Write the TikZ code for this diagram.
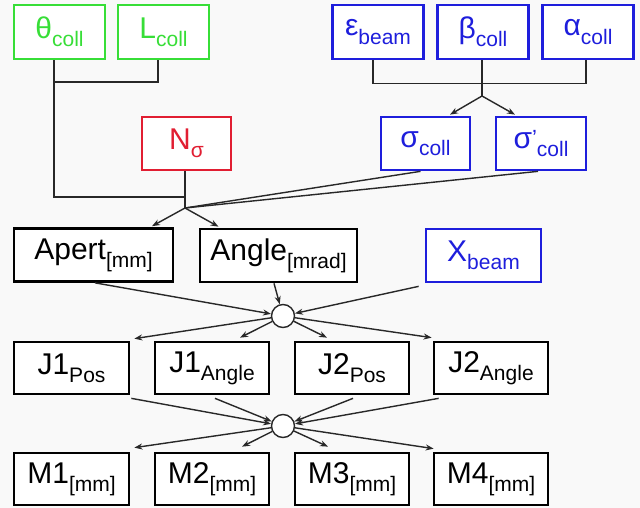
\documentclass[tikz,border=0pt]{standalone}
\usepackage{fontspec}
\setmainfont{Liberation Sans}
\usetikzlibrary{arrows.meta,calc}
\definecolor{cgreen}{RGB}{55,222,55}
\definecolor{cblue}{RGB}{30,30,220}
\definecolor{cred}{RGB}{225,30,50}
\definecolor{cline}{RGB}{40,40,40}
\definecolor{cbg}{RGB}{249,249,249}
\newcommand{\lowsub}[1]{\raisebox{-0.27em}{\fontsize{21}{21}\selectfont #1}}
\newcommand{\primemark}{\raisebox{0.12em}{\fontsize{22}{22}\selectfont '}}
\begin{document}
\begin{tikzpicture}[x=1pt,y=-1pt,
  box/.style={draw=black,line width=2.7pt,fill=white,inner sep=0pt,
    minimum height=53pt,font=\fontsize{30}{32}\selectfont},
  gbox/.style={box,draw=cgreen,text=cgreen,minimum width=91pt,minimum height=54pt},
  bbox/.style={box,draw=cblue,text=cblue},
  rbox/.style={box,draw=cred,text=cred},
  kbox/.style={box,minimum width=115pt,minimum height=52pt},
  conn/.style={draw=cline,line width=1.4pt},
  arr/.style={conn,-{Stealth[length=8pt,width=6pt]}},
  hub/.style={circle,draw=cline,line width=1.4pt,fill=white,minimum size=23pt,inner sep=0pt}]
\useasboundingbox (0,0) rectangle (640,508);
\fill[cbg] (0,0) rectangle (640,508);

% top row
\node[gbox] (theta) at (59.5,32) {θ\lowsub{coll}};
\node[gbox] (lcoll) at (163.5,32) {L\lowsub{coll}};
\node[bbox,minimum width=91pt,minimum height=54pt] (eps) at (378,32) {ε\lowsub{beam}};
\node[bbox,minimum width=91pt,minimum height=54pt] (beta) at (483,32) {β\lowsub{coll}};
\node[bbox,minimum width=91pt,minimum height=54pt] (alpha) at (588,32) {α\lowsub{coll}};

% second row
\node[rbox,minimum width=89pt] (nsig) at (186.5,143.5) {N\lowsub{σ}};
\node[bbox,minimum width=89pt] (sig) at (425.5,143.5) {σ\lowsub{coll}};
\node[bbox,minimum width=90pt] (sigp) at (541,143.5) {σ\primemark\lowsub{coll}};

% third row
\node[box,minimum width=159pt] (apert) at (93.5,255) {Apert\lowsub{[mm]}};
\node[box,minimum width=157pt] (angle) at (278.5,255.5) {Angle\lowsub{[mrad]}};
\node[bbox,minimum width=115pt] (xbeam) at (483.5,255.5) {X\lowsub{beam}};

% J row
\node[kbox] (j1pos) at (71.5,368) {J1\lowsub{Pos}};
\node[kbox,minimum width=114pt] (j1ang) at (212,368) {J1\lowsub{Angle}};
\node[kbox,minimum width=114pt] (j2pos) at (352,368) {J2\lowsub{Pos}};
\node[kbox,minimum width=114pt] (j2ang) at (491,368) {J2\lowsub{Angle}};

% M row
\node[kbox] (m1) at (71.5,479) {M1\lowsub{[mm]}};
\node[kbox,minimum width=114pt] (m2) at (212,479) {M2\lowsub{[mm]}};
\node[kbox,minimum width=114pt] (m3) at (352,479) {M3\lowsub{[mm]}};
\node[kbox,minimum width=114pt] (m4) at (491,479) {M4\lowsub{[mm]}};

% hubs
\node[hub] (hub1) at (283,316) {};
\node[hub] (hub2) at (283,426) {};

% junction points
\coordinate (gmerge) at (54,82);
\coordinate (nsjoin) at (185,197);
\coordinate (jtop) at (185,208);
\coordinate (bjunc) at (482,96);

% green tree
\draw[conn] ($(lcoll.south)+(-5.5,0)$) |- (gmerge);
\draw[conn] ($(theta.south)+(-5.5,0)$) |- (nsjoin);
\draw[conn] ($(nsig.south)+(-1.5,0)$) -- (jtop);
\draw[conn] ($(sig.south)+(-5,0)$) -- (jtop);
\draw[conn] ($(sigp.south)+(-3,0)$) -- (jtop);
\draw[arr] (jtop) -- ($(apert.north)+(58.5,-1)$);
\draw[arr] (jtop) -- ($(angle.north)+(-60,-1)$);

% blue tree
\draw[conn] ($(eps.south)+(-5,0)$) -- ++(0,23) -| ($(alpha.south)+(-2,0)$);
\draw[conn] ($(beta.south)+(-1,0)$) -- (bjunc);
\draw[arr] (bjunc) -- ($(sig.north)+(24.5,-1)$);
\draw[arr] (bjunc) -- ($(sigp.north)+(-26,-1)$);

% hub 1
\draw[arr] ($(apert.south)+(1.5,0)$) -- (hub1);
\draw[arr] ($(angle.south)+(-4.5,0)$) -- (hub1);
\draw[arr] ($(xbeam.south west)+(-6,3)$) -- (hub1);
\draw[arr] (hub1) -- ($(j1pos.north east)+(4,-2)$);
\draw[arr] (hub1) -- ($(j1ang.north)+(28,-3)$);
\draw[arr] (hub1) -- ($(j2pos.north)+(-25,-3)$);
\draw[arr] (hub1) -- ($(j2ang.north west)+(-1,-3)$);

% hub 2
\draw[arr] ($(j1pos.south east)+(1,3)$) -- (hub2);
\draw[arr] ($(j1ang.south)+(3,3)$) -- (hub2);
\draw[arr] ($(j2pos.south)+(1,3)$) -- (hub2);
\draw[arr] ($(j2ang.south west)+(6,3)$) -- (hub2);
\draw[arr] (hub2) -- ($(m1.north east)+(4,-4)$);
\draw[arr] (hub2) -- ($(m2.north)+(30,-5)$);
\draw[arr] (hub2) -- ($(m3.north)+(-24,-5)$);
\draw[arr] (hub2) -- ($(m4.north west)+(1,-3)$);
\end{tikzpicture}
\end{document}
